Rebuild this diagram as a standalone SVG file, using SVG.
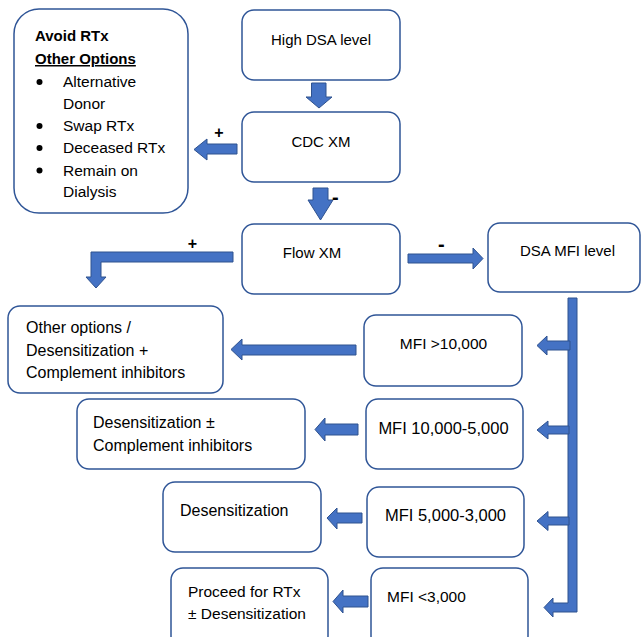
<svg xmlns="http://www.w3.org/2000/svg" width="642" height="637" viewBox="0 0 642 637">
<style>
.box{fill:#fff;stroke:#2F5597;stroke-width:1.5}
.arr{fill:#4472C4;stroke:#2F528F;stroke-width:1}
text{font-family:"Liberation Sans",Arial,sans-serif;fill:#000}
.t15{font-size:15px}
.t16{font-size:16px}
.b{font-weight:bold}
.sign{font-weight:bold;font-size:16px}
.dash{font-weight:bold;font-size:20px}
</style>
<rect width="642" height="637" fill="#fff"/>
<g id="connectors">
<polygon class="arr" points="311.5,83 326,83 326,97 332,97 319,108 306,97 311.5,97"/>
<polygon class="arr" points="313,188 328,188 328,200 333,200 320.5,220 308,200 313,200"/>
<polygon class="arr" points="237,144 207,144 207,139 194,149.5 207,160 207,154 237,154"/>
<polygon class="arr" points="233,252 91,252 91,277 86,277 96,288 106,277 101,277 101,262 233,262"/>
<polygon class="arr" points="408,254 473,254 473,248 483,258.5 473,269 473,263 408,263"/>
<polygon class="arr" points="568,298 577,298 577,612 553,612 553,617 544,607.5 553,598 553,603 568,603"/>
<polygon class="arr" points="570,341 547,341 547,336 537,345.5 547,355 547,350 570,350"/>
<polygon class="arr" points="569,426 548,426 548,421 537,430 548,439 548,434 569,434"/>
<polygon class="arr" points="569,517 548,517 548,511.5 537,521 548,530.5 548,525 569,525"/>
<polygon class="arr" points="356,345 242,345 242,339 231,349.5 242,360 242,355 356,355"/>
<polygon class="arr" points="358,424 325,424 325,418 315,429.5 325,441 325,435 358,435"/>
<polygon class="arr" points="362,513 337,513 337,508 327,518 337,529 337,523 362,523"/>
<polygon class="arr" points="368,596 343,596 343,590 333,601.5 343,613 343,607 368,607"/>
<text class="sign" x="219" y="137.5" text-anchor="middle">+</text>
<text class="dash" x="332" y="204">-</text>
<text class="sign" x="192.5" y="248.5" text-anchor="middle">+</text>
<text class="dash" x="438" y="250.5">-</text>
</g>
<g id="avoid">
<rect class="box" x="14" y="9" width="174" height="204" rx="25"/>
<text class="t15 b" x="35" y="41">Avoid RTx</text>
<text class="t15 b" x="35" y="64" text-decoration="underline">Other Options</text>
<circle cx="39.5" cy="82" r="3"/>
<circle cx="39.5" cy="126" r="3"/>
<circle cx="39.5" cy="148" r="3"/>
<circle cx="39.5" cy="170.5" r="3"/>
<text class="t15" x="63" y="87" style="font-size:15.5px">Alternative</text>
<text class="t15" x="63" y="108.5" style="font-size:15.5px">Donor</text>
<text class="t15" x="63" y="131" style="font-size:15.5px">Swap RTx</text>
<text class="t15" x="63" y="153" style="font-size:15.5px">Deceased RTx</text>
<text class="t15" x="63" y="175.5" style="font-size:15.5px">Remain on</text>
<text class="t15" x="63" y="196.5" style="font-size:15.5px">Dialysis</text>
</g>
<g id="high">
<rect class="box" x="242" y="10" width="158" height="70" rx="12"/>
<text class="t15" x="321" y="45" text-anchor="middle">High DSA level</text>
</g>
<g id="cdc">
<rect class="box" x="242" y="112" width="158" height="70" rx="12"/>
<text class="t15" x="321" y="147" text-anchor="middle">CDC XM</text>
</g>
<g id="flow">
<rect class="box" x="242" y="224" width="158" height="70" rx="12"/>
<text class="t15" x="312" y="258" text-anchor="middle">Flow XM</text>
</g>
<g id="dsa">
<rect class="box" x="488" y="223" width="152" height="69" rx="12"/>
<text class="t15" x="567.5" y="256" text-anchor="middle">DSA MFI level</text>
</g>
<g id="mfi1">
<rect class="box" x="364" y="315" width="158" height="71" rx="12"/>
<text class="t15" x="443.5" y="349" text-anchor="middle" style="font-size:15.5px">MFI &gt;10,000</text>
</g>
<g id="other">
<rect class="box" x="8" y="306" width="215" height="87" rx="12"/>
<text class="t16" x="26" y="333">Other options /</text>
<text class="t16" x="26" y="356">Desensitization +</text>
<text class="t16" x="26" y="378">Complement inhibitors</text>
</g>
<g id="mfi2">
<rect class="box" x="366" y="399" width="157" height="70" rx="12"/>
<text class="t16" x="443.5" y="433.5" text-anchor="middle" style="font-size:16.5px">MFI 10,000-5,000</text>
</g>
<g id="desc">
<rect class="box" x="77" y="399" width="228" height="70" rx="12"/>
<text class="t16" x="93" y="428">Desensitization ±</text>
<text class="t16" x="93" y="451">Complement inhibitors</text>
</g>
<g id="mfi3">
<rect class="box" x="367" y="487" width="157" height="70" rx="12"/>
<text class="t16" x="445.5" y="520.5" text-anchor="middle" style="font-size:16.5px">MFI 5,000-3,000</text>
</g>
<g id="des">
<rect class="box" x="163" y="482" width="158" height="70" rx="12"/>
<text class="t16" x="180" y="516">Desensitization</text>
</g>
<g id="mfi4">
<rect class="box" x="371" y="568" width="157" height="80" rx="12"/>
<text class="t16" x="387" y="602" style="font-size:15.5px">MFI &lt;3,000</text>
</g>
<g id="proceed">
<rect class="box" x="171" y="568" width="157" height="80" rx="12"/>
<text class="t16" x="188" y="597" style="font-size:15.5px">Proceed for RTx</text>
<text class="t16" x="188" y="619" style="font-size:15.5px">± Desensitization</text>
</g>
</svg>
